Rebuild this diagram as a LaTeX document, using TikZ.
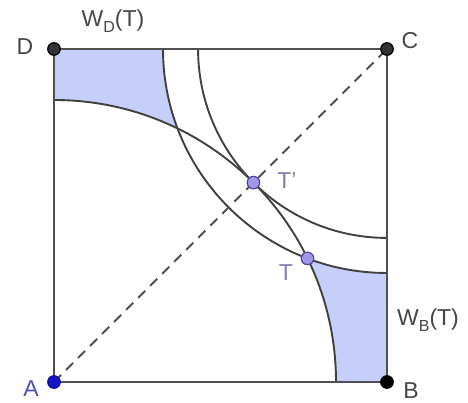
\documentclass[tikz,border=0pt]{standalone}
\usepackage{fontspec}
\setmainfont{Liberation Sans}
\definecolor{regionblue}{RGB}{198,207,250}
\definecolor{labelgray}{RGB}{70,70,70}
\definecolor{linegray}{RGB}{80,80,80}
\definecolor{ptblue}{RGB}{20,20,200}
\definecolor{ptpurple}{RGB}{160,150,235}
\definecolor{ptpurpledraw}{RGB}{80,70,150}
\definecolor{tlabel}{RGB}{130,125,170}
\definecolor{alabel}{RGB}{80,80,180}
\begin{document}
\begin{tikzpicture}[x=1pt,y=1pt,
  edge/.style={draw=linegray, line width=2.3pt},
  arcline/.style={draw=black!75, line width=1.9pt},
  shadefill/.style={fill=regionblue},
  diag/.style={draw=linegray, line width=2pt, dash pattern=on 10pt off 7pt},
  pt/.style={circle, inner sep=0pt, minimum size=12.5pt, line width=1.2pt},
  lbl/.style={font=\fontsize{23}{26}\selectfont, text=labelgray, inner sep=0pt}]
\useasboundingbox (0,0) rectangle (468,403);
\coordinate (A) at (54,21);
\coordinate (B) at (387,21);
\coordinate (C) at (387,354);
\coordinate (D) at (54,354);
\path (A) ++(25.99:282) coordinate (T);
\path (A) ++(45:282) coordinate (Tp);
% shaded regions
\fill[shadefill] (D) -- (163,354) arc[start angle=180, end angle=200.79, radius=224]
  arc[start angle=64.01, end angle=90, radius=282] -- cycle;
\fill[shadefill] (B) -- (387,130) arc[start angle=270, end angle=249.21, radius=224]
  arc[start angle=25.99, end angle=0, radius=282] -- cycle;
% arcs
\draw[arcline] (A) ++(0:282) arc[start angle=0, end angle=90, radius=282];
\draw[arcline] (C) ++(180:224) arc[start angle=180, end angle=270, radius=224];
\draw[arcline] (C) ++(180:188.93) arc[start angle=180, end angle=270, radius=188.93];
% square
\draw[edge] (A) -- (B) -- (C) -- (D) -- cycle;
% diagonal
\draw[diag] (A) -- (C);
% points
\node[pt, fill=ptblue, draw=ptblue!80!black] (pA) at (A) {};
\node[pt, fill=black, draw=black] (pB) at (B) {};
\node[pt, fill=black!80, draw=black] (pC) at (C) {};
\node[pt, fill=black!80, draw=black] (pD) at (D) {};
\node[pt, fill=ptpurple, draw=ptpurpledraw] (pT) at (T) {};
\node[pt, fill=ptpurple, draw=ptpurpledraw] (pTp) at (Tp) {};
% labels
\node[lbl] (lD) at (25,356) {D};
\node[lbl] (lWD) at (113,382) {W\raisebox{-6pt}{\fontsize{16}{16}\selectfont D}(T)};
\node[lbl] (lC) at (410,362) {C};
\node[lbl, text=tlabel] (lTp) at (287,222) {T'};
\node[lbl, text=tlabel] (lT) at (286,130) {T};
\node[lbl] (lWB) at (428,83) {W\raisebox{-6pt}{\fontsize{16}{16}\selectfont B}(T)};
\node[lbl, text=alabel] (lA) at (31,14) {A};
\node[lbl] (lB) at (411,12) {B};
\end{tikzpicture}
\end{document}
